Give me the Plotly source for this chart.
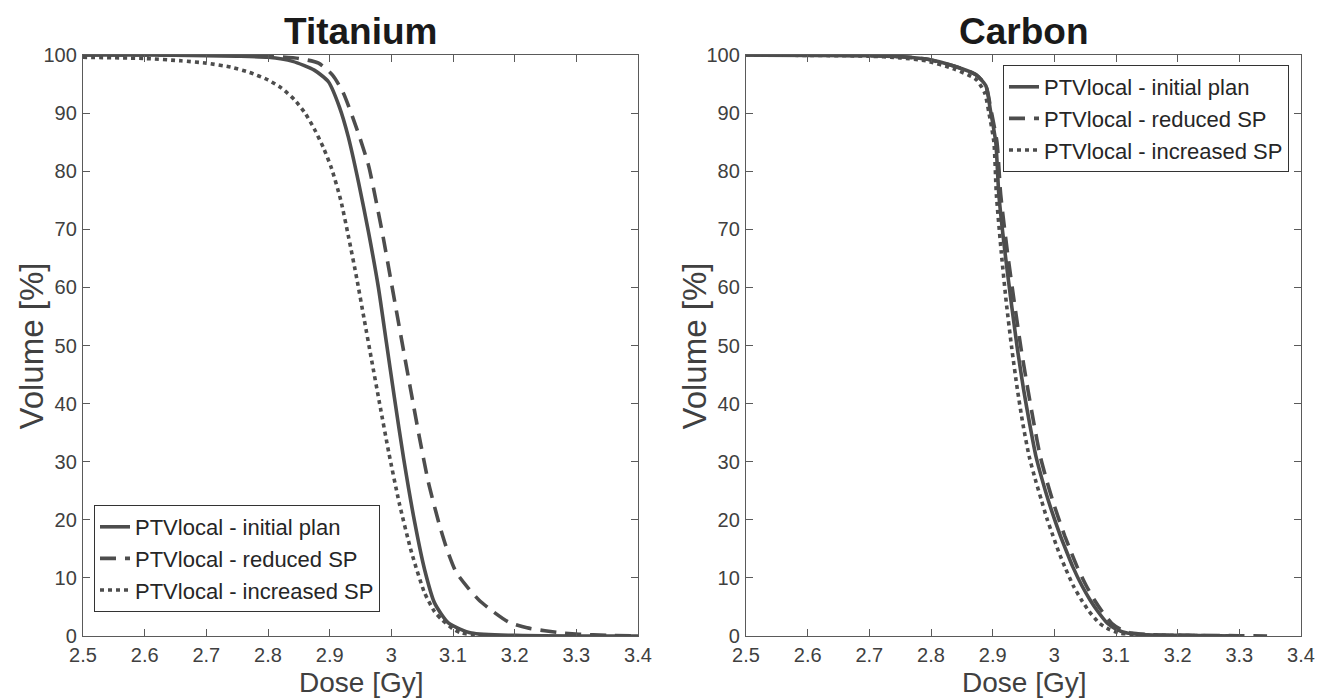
import plotly.graph_objects as go

# ---------------- data ----------------
ti_initial_x = [2.5, 2.6, 2.7, 2.75, 2.8, 2.84, 2.875, 2.898, 2.916, 2.93, 2.947, 2.963, 2.979, 2.992, 3.005, 3.02, 3.038, 3.054, 3.07, 3.093, 3.13, 3.2, 3.3, 3.4]
ti_initial_y = [100, 100, 99.9, 99.8, 99.6, 98.9, 97.4, 95.4, 91, 86, 78, 69.5, 60, 50.5, 41, 30.5, 19.5, 11.4, 5.7, 2.2, 0.5, 0.1, 0, 0]

ti_reduced_x = [2.5, 2.7, 2.8, 2.85, 2.882, 2.905, 2.922, 2.944, 2.963, 2.975, 2.987, 2.998, 3.009, 3.02, 3.032, 3.045, 3.06, 3.077, 3.09, 3.105, 3.125, 3.142, 3.165, 3.19, 3.22, 3.249, 3.28, 3.304, 3.35, 3.4]
ti_reduced_y = [100, 100, 99.8, 99.4, 98.6, 96.5, 93.5, 87.3, 81, 75, 68.5, 62, 55.5, 49, 42, 34.5, 26.5, 19.5, 15, 11, 8.2, 6.2, 4.2, 2.4, 1.4, 0.9, 0.5, 0.3, 0.1, 0]

ti_increased_x = [2.5, 2.6, 2.659, 2.7, 2.74, 2.77, 2.8, 2.822, 2.843, 2.86, 2.875, 2.89, 2.903, 2.918, 2.931, 2.944, 2.956, 2.968, 2.981, 2.996, 3.013, 3.033, 3.054, 3.07, 3.082, 3.1, 3.114, 3.14, 3.2]
ti_increased_y = [99.6, 99.4, 99.0, 98.6, 97.9, 97.0, 95.7, 94.3, 92.3, 90, 87.3, 84, 80.5, 75, 68.5, 61.5, 54.5, 47.5, 40, 31.5, 22.8, 14.3, 7.4, 4.2, 2.8, 1.2, 0.5, 0.1, 0]

c_initial_x = [2.5, 2.7, 2.75, 2.792, 2.837, 2.873, 2.889, 2.896, 2.905, 2.91, 2.92, 2.93, 2.94, 2.95, 2.96, 2.97, 2.98, 2.99, 3.0, 3.01, 3.02, 3.03, 3.045, 3.058, 3.07, 3.086, 3.1, 3.118, 3.15, 3.2, 3.3]
c_initial_y = [100, 99.9, 99.7, 99.3, 98.1, 96.6, 94.7, 90.7, 85, 76, 66, 57.5, 49.5, 42.5, 36.5, 31, 27, 23.4, 20.2, 17.2, 14.5, 11.9, 8.6, 6.2, 4.3, 2.2, 1.2, 0.5, 0.2, 0.1, 0]

c_reduced_x = [2.5, 2.7, 2.75, 2.792, 2.837, 2.873, 2.889, 2.897, 2.907, 2.913, 2.924, 2.935, 2.946, 2.957, 2.967, 2.977, 2.987, 2.997, 3.007, 3.017, 3.027, 3.037, 3.052, 3.065, 3.077, 3.093, 3.107, 3.125, 3.16, 3.22, 3.3, 3.345]
c_reduced_y = [100, 99.9, 99.7, 99.3, 98.1, 96.6, 94.7, 90.7, 85, 76, 66, 57.5, 49.5, 42.5, 36.5, 31, 27, 23.4, 20.2, 17.2, 14.5, 11.9, 8.6, 6.2, 4.3, 2.2, 1.2, 0.5, 0.2, 0.1, 0.05, 0]

c_increased_x = [2.5, 2.7, 2.75, 2.792, 2.837, 2.873, 2.887, 2.894, 2.902, 2.906, 2.914, 2.922, 2.931, 2.94, 2.949, 2.959, 2.969, 2.979, 2.988, 2.998, 3.007, 3.017, 3.031, 3.044, 3.056, 3.073, 3.088, 3.106, 3.14, 3.2, 3.3]
c_increased_y = [100, 99.8, 99.5, 99.0, 97.6, 95.8, 93.5, 90, 85, 76, 66, 57.5, 49.5, 42.5, 36.5, 31, 27, 23.4, 20.2, 17.2, 14.5, 11.9, 8.6, 6.2, 4.3, 2.2, 1.2, 0.5, 0.2, 0.1, 0]

series_names = ["PTVlocal - initial plan", "PTVlocal - reduced SP", "PTVlocal - increased SP"]
panel_titles = ["Titanium", "Carbon"]
x_title = "Dose [Gy]"
y_title = "Volume [%]"
x_ticks = [2.5, 2.6, 2.7, 2.8, 2.9, 3.0, 3.1, 3.2, 3.3, 3.4]
x_tick_labels = ["2.5", "2.6", "2.7", "2.8", "2.9", "3", "3.1", "3.2", "3.3", "3.4"]
y_ticks = [0, 10, 20, 30, 40, 50, 60, 70, 80, 90, 100]

# ---------------- styling ----------------
LINE = "#4d4d4d"
AX = "#5a5a5a"
TXT = "#404040"
FONT = "Liberation Sans, Arial, sans-serif"
dashes = ["solid", "16px,9px", "4px,4px"]
LW = 3.6

fig = go.Figure()

ti = [(ti_initial_x, ti_initial_y), (ti_reduced_x, ti_reduced_y), (ti_increased_x, ti_increased_y)]
ca = [(c_initial_x, c_initial_y), (c_reduced_x, c_reduced_y), (c_increased_x, c_increased_y)]

for i, (xs, ys) in enumerate(ti):
    fig.add_trace(go.Scatter(x=xs, y=ys, mode="lines", name=series_names[i],
                             line=dict(color=LINE, width=LW, dash=dashes[i], shape="spline", smoothing=0.6),
                             xaxis="x", yaxis="y", legend="legend", legendgroup="t%d" % i))
for i, (xs, ys) in enumerate(ca):
    fig.add_trace(go.Scatter(x=xs, y=ys, mode="lines", name=series_names[i],
                             line=dict(color=LINE, width=LW, dash=dashes[i], shape="spline", smoothing=0.6),
                             xaxis="x2", yaxis="y2", legend="legend2", legendgroup="c%d" % i))

# The page body has an 8px margin, so the figure is drawn 8px smaller and
# every reference pixel position is shifted by -8.
OFF = 8
W, H = 1328 - OFF, 700 - OFF
ml, mt = 83 - OFF, 55 - OFF
plot_right, plot_bottom = 1301 - OFF, 636 - OFF
mr, mb = W - plot_right, H - plot_bottom
pw = W - ml - mr
ph = H - mt - mb
d1 = [0, 555 / pw]
d2 = [(746 - OFF - ml) / pw, 1]


def px_x(p):  # reference pixel -> paper x
    return (p - OFF - ml) / pw


def px_y(p):  # reference pixel -> paper y
    return (plot_bottom - (p - OFF)) / ph


axis_common = dict(showline=True, linecolor=AX, linewidth=1.3, mirror="ticks",
                   ticks="inside", ticklen=7, tickcolor=AX, tickwidth=1.3,
                   showgrid=False, zeroline=False, automargin=False,
                   tickfont=dict(family=FONT, size=20, color=TXT))

xa = dict(axis_common, range=[2.5, 3.4], tickvals=x_ticks, ticktext=x_tick_labels, ticklabelstandoff=1)
ya = dict(axis_common, range=[0, 100], tickvals=y_ticks, ticklabelstandoff=1)

legend_common = dict(bgcolor="white", bordercolor="#333333", borderwidth=1,
                     font=dict(family=FONT, size=22, color="#262626"),
                     tracegroupgap=0, itemwidth=30)

annotations = []
for k, dom in enumerate([d1, d2]):
    cx = (dom[0] + dom[1]) / 2
    annotations.append(dict(text="<b>%s</b>" % panel_titles[k], x=cx, y=px_y(OFF + 1),
                            xref="paper", yref="paper", showarrow=False, xanchor="center", yanchor="top",
                            font=dict(family=FONT, size=37, color="#1a1a1a")))
    annotations.append(dict(text=x_title, x=cx, y=px_y(700),
                            xref="paper", yref="paper", showarrow=False, xanchor="center", yanchor="bottom",
                            font=dict(family=FONT, size=28, color=TXT)))
    annotations.append(dict(text=y_title, x=dom[0] - 52 / pw, y=0.5, textangle=-90,
                            xref="paper", yref="paper", showarrow=False, xanchor="center", yanchor="middle",
                            font=dict(family=FONT, size=33, color=TXT)))

fig.update_layout(
    width=W, height=H,
    margin=dict(l=ml, r=mr, t=mt, b=mb, pad=0),
    paper_bgcolor="white", plot_bgcolor="white",
    xaxis=dict(xa, domain=d1, anchor="y"),
    yaxis=dict(ya, domain=[0, 1], anchor="x"),
    xaxis2=dict(xa, domain=d2, anchor="y2"),
    yaxis2=dict(ya, domain=[0, 1], anchor="x2"),
    legend=dict(legend_common, x=px_x(94), y=px_y(612), xanchor="left", yanchor="bottom"),
    legend2=dict(legend_common, x=px_x(1003), y=px_y(65), xanchor="left", yanchor="top"),
    annotations=annotations,
)

fig.write_html("out.html")
